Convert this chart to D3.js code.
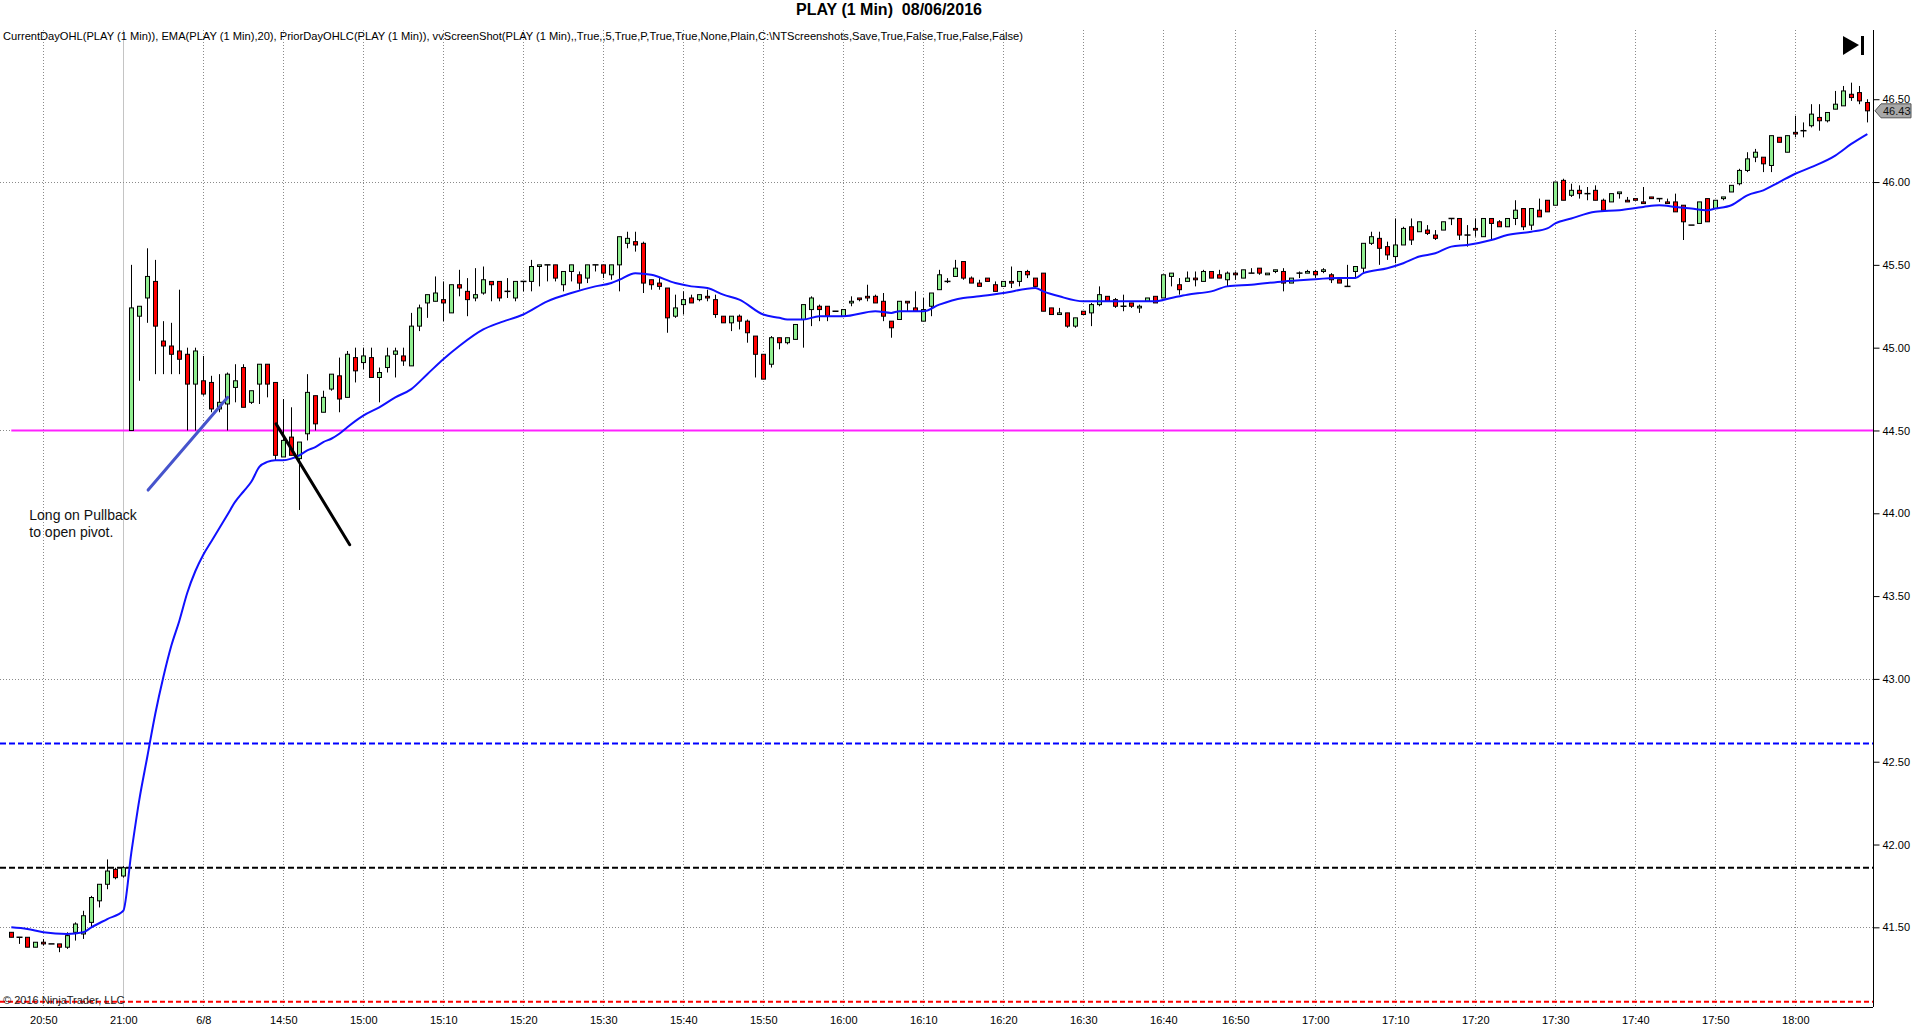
<!DOCTYPE html>
<html>
<head>
<meta charset="utf-8">
<title>PLAY (1 Min) 08/06/2016</title>
<script src="https://cdn.jsdelivr.net/npm/d3@7"></script>
<style>
  html, body { margin: 0; padding: 0; background: #fff; }
  svg { display: block; font-family: "Liberation Sans", Arial, sans-serif; }
</style>
</head>
<body>
<div id="chart"></div>
<script>
// 1 minute bars, index 0 = 20:46 (prior session), index 15 = 14:31 on 6/8
const opens = [
  41.47,41.44,41.44,41.38,41.41,41.40,41.40,41.38,41.47,41.46,41.53,41.66,41.76,41.85,41.81,
  44.50,45.19,45.30,45.40,45.04,45.01,44.98,44.96,44.78,44.80,
  44.79,44.63,44.66,44.76,44.88,44.67,44.78,44.90,44.79,44.34,
  44.46,44.33,44.48,44.71,44.61,44.75,44.83,44.70,44.94,44.91,
  44.94,44.82,44.88,44.96,44.95,44.89,45.13,45.27,45.28,45.29,
  45.21,45.38,45.34,45.30,45.33,45.40,45.40,45.34,45.30,45.40,
  45.40,45.49,45.50,45.50,45.38,45.46,45.44,45.42,45.50,45.50,
  45.44,45.50,45.63,45.64,45.63,45.41,45.39,45.36,45.19,45.26,
  45.30,45.29,45.31,45.29,45.19,45.15,45.19,45.16,45.07,44.96,
  44.90,45.06,45.03,45.05,45.17,45.23,45.25,45.25,45.22,45.19,
  45.27,45.30,45.31,45.31,45.28,45.16,45.17,45.28,45.24,45.16,
  45.25,45.35,45.40,45.43,45.52,45.42,45.39,45.42,45.38,45.37,
  45.40,45.40,45.46,45.42,45.45,45.24,45.20,45.21,45.13,45.22,
  45.21,45.26,45.31,45.29,45.25,45.27,45.24,45.28,45.31,45.30,
  45.43,45.38,45.40,45.42,45.40,45.46,45.44,45.41,45.45,45.42,
  45.45,45.48,45.44,45.46,45.46,45.39,45.45,45.45,45.46,45.46,
  45.44,45.41,45.37,45.46,45.48,45.63,45.66,45.61,45.55,45.62,
  45.73,45.70,45.71,45.68,45.71,45.78,45.78,45.68,45.72,45.67,
  45.78,45.76,45.73,45.78,45.84,45.74,45.83,45.89,45.86,46.01,
  45.92,45.95,45.93,45.95,45.89,45.88,45.93,45.89,45.90,45.88,
  45.91,45.90,45.88,45.88,45.86,45.74,45.75,45.90,45.84,45.90,
  45.94,45.99,46.07,46.15,46.15,46.10,46.27,46.18,46.30,46.31,
  46.34,46.39,46.37,46.44,46.46,46.53,46.54,46.48
]
const highs = [
  41.47,41.44,41.44,41.41,41.43,41.40,41.40,41.47,41.53,41.60,41.69,41.76,41.91,41.86,41.87,
  45.50,45.25,45.60,45.53,45.16,45.15,45.35,45.00,45.00,44.95,
  44.83,44.84,44.85,44.90,44.90,44.74,44.90,44.90,44.79,44.69,
  44.64,44.43,44.84,44.71,44.74,44.84,44.94,44.98,45.00,45.00,
  45.00,44.88,45.00,45.00,45.00,45.21,45.26,45.32,45.43,45.40,
  45.38,45.47,45.42,45.48,45.49,45.40,45.40,45.42,45.40,45.40,
  45.53,45.50,45.50,45.50,45.46,45.50,45.46,45.50,45.50,45.50,
  45.50,45.67,45.70,45.70,45.64,45.41,45.42,45.36,45.32,45.34,
  45.32,45.32,45.35,45.32,45.19,45.19,45.20,45.17,45.07,44.96,
  45.07,45.06,45.06,45.14,45.26,45.31,45.26,45.25,45.22,45.23,
  45.31,45.30,45.38,45.32,45.33,45.16,45.28,45.28,45.34,45.30,
  45.33,45.47,45.42,45.53,45.52,45.43,45.41,45.42,45.40,45.40,
  45.49,45.46,45.47,45.42,45.45,45.24,45.24,45.21,45.18,45.22,
  45.27,45.37,45.31,45.30,45.32,45.27,45.26,45.30,45.31,45.44,
  45.45,45.42,45.46,45.46,45.47,45.46,45.47,45.46,45.46,45.47,
  45.48,45.48,45.45,45.47,45.48,45.42,45.46,45.47,45.47,45.48,
  45.45,45.41,45.50,45.49,45.63,45.70,45.70,45.64,45.78,45.73,
  45.78,45.76,45.74,45.71,45.76,45.78,45.78,45.74,45.78,45.78,
  45.78,45.77,45.78,45.89,45.84,45.84,45.90,45.89,46.00,46.02,
  45.99,45.98,45.97,45.98,45.90,45.93,45.94,45.91,45.90,45.97,
  45.91,45.90,45.90,45.93,45.86,45.74,45.88,45.90,45.89,45.91,
  45.98,46.08,46.18,46.20,46.15,46.28,46.27,46.28,46.40,46.36,
  46.47,46.47,46.42,46.55,46.58,46.60,46.58,46.50
]
const lows = [
  41.44,41.40,41.38,41.38,41.39,41.40,41.35,41.37,41.42,41.43,41.50,41.62,41.73,41.79,41.80,
  44.50,44.80,45.15,44.84,44.84,44.84,44.84,44.50,44.50,44.71,
  44.61,44.61,44.50,44.67,44.64,44.66,44.66,44.70,44.32,44.34,
  44.35,44.02,44.44,44.50,44.61,44.74,44.61,44.70,44.79,44.87,
  44.82,44.67,44.85,44.82,44.89,44.89,45.10,45.18,45.28,45.16,
  45.21,45.31,45.19,45.28,45.32,45.28,45.28,45.30,45.28,45.34,
  45.34,45.37,45.40,45.40,45.34,45.40,45.35,45.39,45.46,45.42,
  45.41,45.34,45.60,45.58,45.33,45.35,45.35,45.09,45.18,45.20,
  45.27,45.28,45.28,45.18,45.15,45.10,45.11,45.03,44.82,44.81,
  44.88,44.99,45.02,45.05,45.00,45.13,45.16,45.16,45.22,45.19,
  45.25,45.28,45.28,45.27,45.16,45.06,45.17,45.22,45.22,45.16,
  45.19,45.35,45.39,45.43,45.41,45.39,45.37,45.40,45.34,45.37,
  45.36,45.37,45.42,45.37,45.22,45.20,45.20,45.12,45.12,45.20,
  45.13,45.25,45.28,45.24,45.22,45.24,45.21,45.28,45.27,45.30,
  45.37,45.32,45.40,45.37,45.40,45.42,45.42,45.37,45.41,45.42,
  45.45,45.44,45.44,45.45,45.34,45.39,45.42,45.45,45.42,45.45,
  45.39,45.39,45.37,45.42,45.45,45.62,45.50,45.53,45.51,45.62,
  45.62,45.70,45.68,45.65,45.71,45.74,45.65,45.61,45.67,45.67,
  45.65,45.73,45.73,45.74,45.71,45.71,45.79,45.82,45.86,45.89,
  45.91,45.90,45.89,45.89,45.83,45.88,45.90,45.88,45.89,45.87,
  45.90,45.88,45.87,45.82,45.65,45.74,45.75,45.76,45.84,45.89,
  45.94,45.98,46.06,46.12,46.06,46.06,46.24,46.18,46.27,46.27,
  46.33,46.31,46.36,46.44,46.46,46.49,46.47,46.36
]
const closes = [
  41.44,41.44,41.38,41.41,41.40,41.40,41.38,41.45,41.52,41.57,41.68,41.76,41.84,41.80,41.86,
  45.24,45.25,45.43,45.13,45.01,44.96,44.93,44.78,44.98,44.72,
  44.63,44.67,44.84,44.80,44.64,44.74,44.90,44.78,44.35,44.44,
  44.35,44.43,44.73,44.54,44.70,44.84,44.69,44.96,44.86,44.95,
  44.82,44.85,44.95,44.98,44.92,45.13,45.24,45.32,45.33,45.27,
  45.38,45.36,45.29,45.32,45.41,45.38,45.30,45.34,45.40,45.40,
  45.49,45.50,45.50,45.42,45.46,45.50,45.39,45.50,45.50,45.45,
  45.50,45.67,45.66,45.62,45.39,45.38,45.37,45.18,45.24,45.29,
  45.27,45.32,45.30,45.20,45.15,45.19,45.16,45.09,44.96,44.81,
  45.06,45.03,45.06,45.14,45.26,45.30,45.23,45.19,45.22,45.23,
  45.28,45.29,45.30,45.27,45.19,45.12,45.28,45.27,45.22,45.23,
  45.33,45.44,45.40,45.48,45.42,45.39,45.37,45.40,45.34,45.40,
  45.39,45.46,45.44,45.37,45.22,45.20,45.21,45.13,45.18,45.20,
  45.26,45.32,45.28,45.25,45.25,45.25,45.25,45.30,45.27,45.44,
  45.45,45.35,45.42,45.41,45.46,45.42,45.42,45.45,45.44,45.47,
  45.45,45.45,45.45,45.47,45.39,45.42,45.45,45.46,45.44,45.47,
  45.41,45.39,45.37,45.49,45.63,45.67,45.60,45.56,45.62,45.72,
  45.65,45.76,45.69,45.66,45.76,45.78,45.68,45.68,45.71,45.78,
  45.75,45.73,45.78,45.83,45.73,45.84,45.79,45.82,46.00,45.89,
  45.95,45.93,45.93,45.89,45.83,45.93,45.94,45.88,45.89,45.87,
  45.90,45.90,45.87,45.82,45.76,45.74,45.88,45.76,45.89,45.91,
  45.98,46.07,46.14,46.18,46.11,46.28,46.24,46.28,46.29,46.31,
  46.41,46.37,46.42,46.47,46.55,46.51,46.49,46.43
]

// EMA(20) at these bar indexes
const emaIdx = [0,2,4,7,9,10,12,14,15,16,17,18,19,20,21,22,23,24,25,26,27,28,29,30,31,32,33,34,35,36,37,38,39,40,41,42,44,46,48,50,52,54,56,59,61,64,67,70,73,75,76,78,80,83,85,87,89,91,94,96,97,99,101,104,108,110,111,114,116,119,121,124,128,129,131,134,137,141,143,145,147,150,152,155,159,162,166,168,169,172,174,176,178,180,182,185,187,190,192,193,195,198,201,204,206,208,210,212,213,215,217,219,221,223,225,228,230,232]
const emaVal = [41.50,41.49,41.47,41.46,41.47,41.50,41.55,41.60,41.95,42.27,42.53,42.79,43.01,43.20,43.35,43.52,43.65,43.75,43.83,43.91,43.99,44.07,44.13,44.19,44.28,44.31,44.32,44.32,44.33,44.35,44.38,44.40,44.43,44.45,44.48,44.52,44.59,44.64,44.70,44.75,44.84,44.93,45.01,45.11,45.15,45.20,45.28,45.33,45.37,45.39,45.41,45.45,45.44,45.39,45.37,45.36,45.32,45.29,45.20,45.18,45.17,45.17,45.19,45.19,45.22,45.21,45.22,45.22,45.26,45.30,45.31,45.33,45.36,45.34,45.31,45.28,45.28,45.28,45.28,45.30,45.32,45.34,45.37,45.38,45.40,45.41,45.42,45.42,45.45,45.48,45.51,45.55,45.57,45.61,45.62,45.65,45.68,45.70,45.72,45.75,45.78,45.82,45.83,45.85,45.86,45.85,45.84,45.83,45.84,45.86,45.92,45.95,46.00,46.05,46.09,46.16,46.23,46.29]

// time axis
const tickIdx = [4,14,24,34,44,54,64,74,84,94,104,114,124,134,144,153,163,173,183,193,203,213,223]
const tickLabels = ['20:50','21:00','6/8','14:50','15:00','15:10','15:20','15:30','15:40','15:50','16:00','16:10','16:20','16:30','16:40','16:50','17:00','17:10','17:20','17:30','17:40','17:50','18:00']
const sessionBreak = 14

// price axis
const priceTicks = [41.5,42.0,42.5,43.0,43.5,44.0,44.5,45.0,45.5,46.0,46.5]
const priceGrid = [41.5,43.0,44.5,46.0]

// indicator levels
const openPivot = 44.50
const priorHigh = 42.61
const priorClose = 41.86
const priorLow = 41.05

// hand drawn notes ([bar index, price])
const longLine = [[17.1,44.14],[27.05,44.70]]
const stopLine = [[33.1,44.54],[42.3,43.81]]
const noteAnchor = [2.25,43.96]
const noteText = ['Long on Pullback', 'to open pivot.']

const W = 1920, H = 1034
const plot = {left: 0, right: 1873, top: 30, bottom: 1007}

const svg = d3.select('#chart').append('svg')
    .attr('width', W)
    .attr('height', H)
    .style('background-color', '#ffffff')

const x = d3.scaleLinear()
    .domain([-1.4125, closes.length - 1 + 0.7125])
    .range([plot.left, plot.right])
const y = d3.scaleLinear()
    .domain([41.019, 46.918])
    .range([plot.bottom, plot.top])

// grid
svg.append('g').selectAll('line')
    .data(tickIdx)
    .enter().append('line')
    .attr('x1', d => Math.round(x(d)) + 0.5)
    .attr('x2', d => Math.round(x(d)) + 0.5)
    .attr('y1', plot.top)
    .attr('y2', plot.bottom)
    .attr('stroke', d => d === sessionBreak ? '#c4c4c4' : '#8a8a8a')
    .attr('stroke-dasharray', d => d === sessionBreak ? null : '1,2')

svg.append('g').selectAll('line')
    .data(priceGrid)
    .enter().append('line')
    .attr('x1', plot.left)
    .attr('x2', plot.right)
    .attr('y1', d => Math.round(y(d)) + 0.5)
    .attr('y2', d => Math.round(y(d)) + 0.5)
    .attr('stroke', '#8a8a8a')
    .attr('stroke-dasharray', '1,2')

// prior day lines
const levels = [
    {v: priorHigh, c: '#0000ff', dash: '6,3'},
    {v: priorClose, c: '#000000', dash: '6,3'},
    {v: priorLow, c: '#ff0000', dash: '5,3'}
]
svg.append('g').selectAll('line')
    .data(levels)
    .enter().append('line')
    .attr('x1', plot.left)
    .attr('x2', plot.right)
    .attr('y1', d => y(d.v))
    .attr('y2', d => y(d.v))
    .attr('stroke', d => d.c)
    .attr('stroke-width', 2)
    .attr('stroke-dasharray', d => d.dash)

// current day open
svg.append('line')
    .attr('x1', x(0))
    .attr('x2', plot.right)
    .attr('y1', y(openPivot))
    .attr('y2', y(openPivot))
    .attr('stroke', '#ff22ff')
    .attr('stroke-width', 2)

// candles
const bars = closes.map((c, i) => ({i, o: opens[i], h: highs[i], l: lows[i], c}))
const cx = d => Math.round(x(d.i)) + 0.5
const cg = svg.append('g')

cg.selectAll('line.wick')
    .data(bars)
    .enter().append('line')
    .attr('class', 'wick')
    .attr('x1', cx).attr('x2', cx)
    .attr('y1', d => y(d.h))
    .attr('y2', d => y(d.l))
    .attr('stroke', '#000')
    .attr('stroke-width', 1)

cg.selectAll('rect')
    .data(bars.filter(d => Math.abs(d.c - d.o) > 0.005))
    .enter().append('rect')
    .attr('x', d => cx(d) - 2)
    .attr('width', 4)
    .attr('y', d => y(Math.max(d.o, d.c)))
    .attr('height', d => Math.abs(y(d.o) - y(d.c)))
    .attr('fill', d => d.c > d.o ? '#90ee90' : '#ff0000')
    .attr('stroke', '#000')
    .attr('stroke-width', 1)

cg.selectAll('line.doji')
    .data(bars.filter(d => Math.abs(d.c - d.o) <= 0.005))
    .enter().append('line')
    .attr('class', 'doji')
    .attr('x1', d => cx(d) - 3)
    .attr('x2', d => cx(d) + 3)
    .attr('y1', d => y(d.c))
    .attr('y2', d => y(d.c))
    .attr('stroke', '#000')
    .attr('stroke-width', 1.5)

// EMA
const ema = emaIdx.map((d, k) => [d, emaVal[k]])
svg.append('path')
    .datum(ema)
    .attr('fill', 'none')
    .attr('stroke', '#1010ff')
    .attr('stroke-width', 2)
    .attr('d', d3.line().x(d => x(d[0])).y(d => y(d[1])).curve(d3.curveMonotoneX))

// drawings
svg.append('path')
    .datum(longLine)
    .attr('stroke', '#4654cc')
    .attr('stroke-width', 3)
    .attr('stroke-linecap', 'round')
    .attr('d', d3.line().x(d => x(d[0])).y(d => y(d[1])))
svg.append('path')
    .datum(stopLine)
    .attr('stroke', '#000')
    .attr('stroke-width', 3)
    .attr('stroke-linecap', 'round')
    .attr('d', d3.line().x(d => x(d[0])).y(d => y(d[1])))

svg.append('text')
    .attr('x', x(noteAnchor[0]))
    .attr('y', y(noteAnchor[1]))
    .style('font-size', '14px')
    .attr('fill', '#111')
    .selectAll('tspan')
    .data(noteText)
    .enter().append('tspan')
    .attr('x', x(noteAnchor[0]))
    .attr('dy', (d, i) => i ? 17.5 : 0)
    .text(d => d)

// axes
const yAxis = d3.axisRight(y)
    .tickValues(priceTicks)
    .tickFormat(d3.format('.2f'))
    .tickSize(6)
    .tickPadding(3)
    .tickSizeOuter(0)
const gy = svg.append('g')
    .attr('transform', `translate(${plot.right + 0.5},0)`)
    .call(yAxis)
gy.select('.domain').attr('d', `M0,${plot.top}V${plot.bottom}`).attr('stroke', '#000')
gy.selectAll('text').style('font-size', '11px').attr('fill', '#000')

const xAxis = d3.axisBottom(x)
    .tickValues(tickIdx)
    .tickFormat((d, i) => tickLabels[i])
    .tickSize(0)
    .tickPadding(9)
const gx = svg.append('g')
    .attr('transform', `translate(0,${plot.bottom + 0.5})`)
    .call(xAxis)
gx.select('.domain').attr('d', `M${plot.left},0H${plot.right}`).attr('stroke', '#000')
gx.selectAll('text').style('font-size', '11px').attr('fill', '#000')

// last price marker
const last = closes[closes.length - 1]
const ly = y(last)
svg.append('path')
    .attr('d', `M${plot.right + 2},${ly} L${plot.right + 8},${ly - 7} H${plot.right + 38} V${ly + 7} H${plot.right + 8} Z`)
    .attr('fill', '#a8a8a8')
    .attr('stroke', '#555')
svg.append('text')
    .attr('x', plot.right + 10)
    .attr('y', ly + 4)
    .style('font-size', '11px')
    .attr('fill', '#111')
    .text(d3.format('.2f')(last))

// titles
svg.append('text')
    .attr('x', 889)
    .attr('y', 15)
    .style('text-anchor', 'middle')
    .style('font-size', '16px')
    .style('font-weight', 'bold')
    .style('white-space', 'pre')
    .text('PLAY (1 Min)  08/06/2016')

svg.append('text')
    .attr('x', 3)
    .attr('y', 40)
    .style('font-size', '11px')
    .attr('textLength', 1020)
    .attr('lengthAdjust', 'spacingAndGlyphs')
    .text('CurrentDayOHL(PLAY (1 Min)), EMA(PLAY (1 Min),20), PriorDayOHLC(PLAY (1 Min)), vvScreenShot(PLAY (1 Min),,True,,5,True,P,True,True,None,Plain,C:\\NTScreenshots,Save,True,False,True,False,False)')

svg.append('text')
    .attr('x', 3)
    .attr('y', 1004)
    .style('font-size', '11px')
    .attr('fill', '#222')
    .text('\u00a9 2016 NinjaTrader, LLC')

// play-to-end button
svg.append('path')
    .attr('d', 'M1843,36 L1859,45 L1843,55 Z')
    .attr('fill', '#000')
svg.append('rect')
    .attr('x', 1861).attr('y', 36)
    .attr('width', 3).attr('height', 19)
    .attr('fill', '#000')
</script>
</body>
</html>
